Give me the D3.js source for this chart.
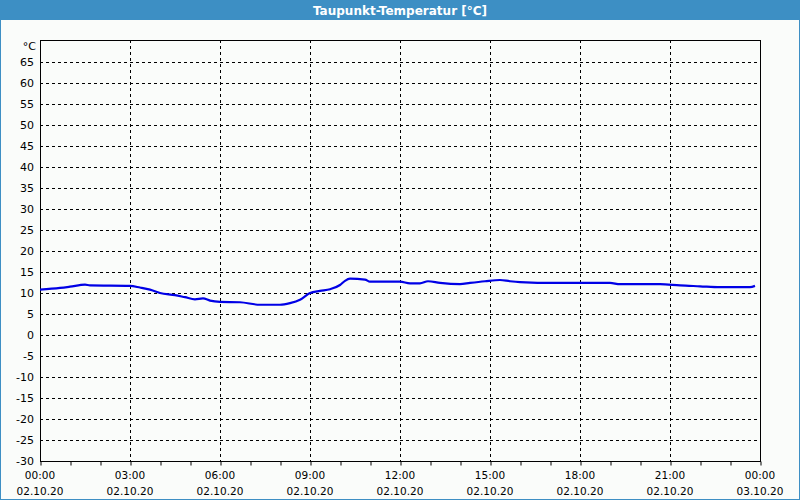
<!DOCTYPE html>
<html><head><meta charset="utf-8">
<script src="https://cdn.jsdelivr.net/npm/d3@7"></script>
<style>body{margin:0;background:#fff}svg{display:block}</style>
</head><body>
<svg id="c" width="800" height="500"></svg>
<script>
const title = "Taupunkt-Temperatur [°C]";
const unit = "°C";
const times = ["00:00","00:40","01:00","01:30","01:40","03:00","03:20","03:40","04:00","04:30","04:50","05:10","05:26","05:40","06:00","06:40","07:20","08:00","08:20","08:40","09:00","09:20","09:40","10:00","10:10","10:20","10:50","11:00","12:00","12:20","12:40","12:56","13:20","14:00","14:20","14:50","15:20","15:40","16:00","17:10","19:00","19:20","20:40","21:20","22:00","22:40","23:40","23:50"];
const values = [10.8,11.2,11.5,12.0,11.8,11.7,11.3,10.8,10.0,9.5,9.0,8.5,8.7,8.2,7.9,7.8,7.2,7.2,7.6,8.4,10.0,10.5,10.9,11.9,12.9,13.4,13.2,12.7,12.7,12.3,12.3,12.8,12.4,12.1,12.4,12.8,13.1,12.8,12.6,12.4,12.4,12.1,12.1,11.8,11.6,11.4,11.4,11.7];
const yTicks = [-30,-25,-20,-15,-10,-5,0,5,10,15,20,25,30,35,40,45,50,55,60,65];
const xTickTimes = ["00:00","03:00","06:00","09:00","12:00","15:00","18:00","21:00","00:00"];
const xTickDates = ["02.10.20","02.10.20","02.10.20","02.10.20","02.10.20","02.10.20","02.10.20","02.10.20","03.10.20"];

const svg = d3.select("#c");
const W=800,H=500;
const L=40,R=760,T=40,B=461;
const font = "Tahoma, 'DejaVu Sans', sans-serif";

svg.append("rect").attr("width",W).attr("height",H).attr("fill","#fafcfa");
svg.append("rect").attr("x",0.5).attr("y",0.5).attr("width",W-1).attr("height",H-1).attr("fill","none").attr("stroke","#3d8fc4").attr("stroke-width",1);
svg.append("rect").attr("x",0).attr("y",0).attr("width",W).attr("height",20).attr("fill","#3d8fc4");
svg.append("text").attr("x",W/2).attr("y",14.5).attr("text-anchor","middle").attr("fill","#fff")
  .attr("font-family",font).attr("font-size",12).attr("font-weight","bold").text(title);

const parse = s => { const [h,m]=s.split(":").map(Number); return h*60+m; };
const x = d3.scaleLinear().domain([0,1440]).range([L,R]);
const y = d3.scaleLinear().domain([-30,70]).range([B,T+1]);

const g = svg.append("g");
yTicks.filter(v=>v>-30).forEach(v=>{
  g.append("line").attr("x1",L).attr("x2",R).attr("y1",Math.round(y(v))+0.5).attr("y2",Math.round(y(v))+0.5)
   .attr("stroke","#000").attr("stroke-dasharray","3,3").attr("stroke-width",1);
});
for(let h=3;h<24;h+=3){
  const xx=Math.round(x(h*60))+0.5;
  g.append("line").attr("x1",xx).attr("x2",xx).attr("y1",T).attr("y2",B)
   .attr("stroke","#000").attr("stroke-dasharray","3,3").attr("stroke-width",1);
}
svg.append("rect").attr("x",L+0.5).attr("y",T+0.5).attr("width",R-L).attr("height",B-T).attr("fill","none").attr("stroke","#000");

const ya = svg.append("g").attr("font-family",font).attr("font-size",11).attr("fill","#000");
yTicks.forEach(v=>{
  ya.append("text").attr("x",34).attr("y",Math.round(y(v))+4).attr("text-anchor","end").text(v);
});
ya.append("text").attr("x",36).attr("y",50).attr("text-anchor","end").text(unit);

const xa = svg.append("g").attr("transform",`translate(0,${B+0.5})`);
xa.call(d3.axisBottom(x).tickValues(d3.range(0,1441,60)).tickSize(4).tickFormat(""));
xa.select(".domain").remove();
xa.selectAll("line").attr("stroke","#000").attr("transform","translate(0.5,0)");
const xl = svg.append("g").attr("font-family",font).attr("font-size",10.5).attr("fill","#000");
xTickTimes.forEach((t,i)=>{
  const xx = x(i*180);
  xl.append("text").attr("x",xx).attr("y",479).attr("text-anchor","middle").text(t);
  xl.append("text").attr("x",xx).attr("y",495).attr("text-anchor","middle").text(xTickDates[i]);
});

const data = times.map((t,i)=>({t:parse(t),v:values[i]}));
svg.append("path").datum(data).attr("fill","none").attr("stroke","#0000e6").attr("stroke-width",2.2)
  .attr("d",d3.line().x(d=>x(d.t)).y(d=>y(d.v)).curve(d3.curveMonotoneX));
</script>
</body></html>
